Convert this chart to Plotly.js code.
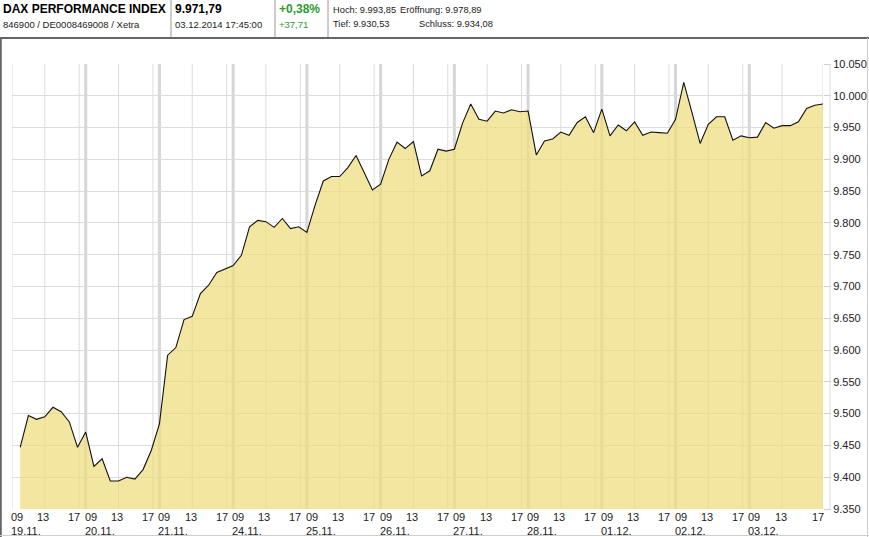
<!DOCTYPE html>
<html>
<head>
<meta charset="utf-8">
<script src="https://cdn.plot.ly/plotly-3.0.1.min.js"></script>
<style>
html,body{margin:0;padding:0;background:#fff;}
#chart{width:869px;height:537px;}
</style>
</head>
<body>
<div id="chart"></div>
<script>
// ---- data ----
const days = ['19.11.', '20.11.', '21.11.', '24.11.', '25.11.', '26.11.', '27.11.', '28.11.', '01.12.', '02.12.', '03.12.'];
const hourTickLabels = ['09', '13', '17'];
const pointsPerDay = 9; // hourly closes 10:00 ... 17:00 and the 17:45 close
const day19 = [9447, 9497, 9491, 9495, 9510, 9503, 9487, 9447, 9471];
const day20 = [9417, 9429, 9394, 9394, 9400, 9397, 9412, 9442, 9484];
const day21 = [9592, 9604, 9648, 9653, 9689, 9702, 9722, 9727, 9733];
const day24 = [9749, 9794, 9804, 9802, 9793, 9807, 9791, 9794, 9785];
const day25 = [9828, 9866, 9873, 9873, 9887, 9906, 9878, 9852, 9861];
const day26 = [9900, 9927, 9917, 9928, 9874, 9882, 9916, 9913, 9916];
const day27 = [9957, 9987, 9963, 9960, 9976, 9973, 9978, 9975, 9976];
const day28 = [9907, 9929, 9932, 9943, 9938, 9958, 9967, 9942, 9979];
const day01 = [9937, 9954, 9945, 9959, 9938, 9943, 9942, 9941, 9963];
const day02 = [10021, 9974, 9925, 9955, 9967, 9967, 9930, 9937, 9934];
const day03 = [9935, 9958, 9949, 9953, 9953, 9959, 9980, 9985, 9987];
const yTicks = [9350, 9400, 9450, 9500, 9550, 9600, 9650, 9700, 9750, 9800, 9850, 9900, 9950, 10000, 10050];

const header = {
  name: 'DAX PERFORMANCE INDEX',
  ids: '846900 / DE0008469008 / Xetra',
  last: '9.971,79',
  time: '03.12.2014 17:45:00',
  pct: '+0,38%',
  abs: '+37,71',
  hoch: 'Hoch: 9.993,85',
  open: 'Eröffnung: 9.978,89',
  tief: 'Tief: 9.930,53',
  close: 'Schluss: 9.934,08'
};

// ---- build ----
const series = [].concat(day19, day20, day21, day24, day25, day26, day27, day28, day01, day02, day03);
const xs = series.map((_, i) => i);

const W = 869, H = 537, ML = 12, MR = 46, MT = 64, MB = 28;
const PW = W - ML - MR, PH = H - MT - MB;
const px = v => (v - ML) / PW;          // pixel x -> paper
const py = v => (H - MB - v) / PH;      // pixel y -> paper

const FONT = 'Liberation Sans, Arial, sans-serif';
const shapes = [];
const annotations = [];

// vertical grid lines
shapes.push({type: 'line', xref: 'x', yref: 'paper', x0: -1, x1: -1, y0: 0, y1: 1, line: {color: '#dcdcdc', width: 1}, layer: 'below'});
shapes.push({type: 'line', xref: 'x', yref: 'paper', x0: 98, x1: 98, y0: 0, y1: 1, line: {color: '#dcdcdc', width: 1}, layer: 'below'});
days.forEach((d, k) => {
  const base = k * pointsPerDay;
  if (k > 0) {
    shapes.push({type: 'line', xref: 'x', yref: 'paper', x0: base - 1, x1: base - 1, y0: 0, y1: 1, line: {color: '#d6d6d6', width: 3}, layer: 'below'});
  }
  shapes.push({type: 'line', xref: 'x', yref: 'paper', x0: base + 3, x1: base + 3, y0: 0, y1: 1, line: {color: '#dcdcdc', width: 1}, layer: 'below'});
  if (k < days.length - 1) {
    shapes.push({type: 'line', xref: 'x', yref: 'paper', x0: base + 7.2, x1: base + 7.2, y0: 0, y1: 1, line: {color: '#dcdcdc', width: 1}, layer: 'below'});
  }
  // hour labels
  annotations.push({xref: 'x', yref: 'paper', x: base - 1, y: py(517), xanchor: 'left', yanchor: 'middle', xshift: -1, text: hourTickLabels[0], showarrow: false, borderpad: 0, borderwidth: 0, font: {family: FONT, size: 11, color: '#222'}});
  annotations.push({xref: 'x', yref: 'paper', x: base + 3, y: py(517), xanchor: 'center', yanchor: 'middle', xshift: -1.5, text: hourTickLabels[1], showarrow: false, borderpad: 0, borderwidth: 0, font: {family: FONT, size: 11, color: '#222'}});
  annotations.push({xref: 'x', yref: 'paper', x: (k < days.length - 1) ? base + 7.2 : 98, y: py(517), xanchor: 'right', yanchor: 'middle', xshift: 1, text: hourTickLabels[2], showarrow: false, borderpad: 0, borderwidth: 0, font: {family: FONT, size: 11, color: '#222'}});
  // date labels
  annotations.push({xref: 'x', yref: 'paper', x: base - 1, y: py(531), xanchor: 'left', yanchor: 'middle', xshift: -1, text: d, showarrow: false, borderpad: 0, borderwidth: 0, font: {family: FONT, size: 11, color: '#222'}});
});

// header
function hdr(text, xpix, ypix, size, color, bold) {
  annotations.push({xref: 'paper', yref: 'paper', x: px(xpix), y: py(ypix), xanchor: 'left', yanchor: 'middle',
    text: bold ? '<b>' + text + '</b>' : text, showarrow: false, borderpad: 0, borderwidth: 0,
    font: {family: FONT, size: size, color: color}});
}
hdr(header.name, 3, 9, 12, '#000', true);
hdr(header.ids, 3, 24.5, 9.5, '#222', false);
hdr(header.last, 175, 9, 12, '#000', true);
hdr(header.time, 175, 24.5, 9.5, '#222', false);
hdr(header.pct, 279, 9, 12, '#2f9a2f', true);
hdr(header.abs, 279, 24.5, 9.5, '#2f9a2f', false);
hdr(header.hoch, 333, 9.5, 9.3, '#222', false);
hdr(header.open, 400, 9.5, 9.3, '#222', false);
hdr(header.tief, 333, 24.5, 9.3, '#222', false);
hdr(header.close, 419, 24.5, 9.3, '#222', false);

// header separators and frame
[171, 275, 328].forEach(x => shapes.push({type: 'line', xref: 'paper', yref: 'paper', x0: px(x), x1: px(x), y0: py(0), y1: py(37), line: {color: '#9a9a9a', width: 1}}));
shapes.push({type: 'line', xref: 'paper', yref: 'paper', x0: px(0), x1: px(869), y0: py(38), y1: py(38), line: {color: '#666', width: 2}});
shapes.push({type: 'line', xref: 'paper', yref: 'paper', x0: px(0.8), x1: px(0.8), y0: py(38), y1: py(537), line: {color: '#666', width: 2}});
shapes.push({type: 'line', xref: 'paper', yref: 'paper', x0: px(0), x1: px(869), y0: py(535.5), y1: py(535.5), line: {color: '#cfcfcf', width: 1}});
shapes.push({type: 'line', xref: 'paper', yref: 'paper', x0: px(867.5), x1: px(867.5), y0: py(38), y1: py(537), line: {color: '#cfcfcf', width: 1}});
shapes.push({type: 'line', xref: 'paper', yref: 'paper', x0: px(830), x1: px(830), y0: 0, y1: 1, line: {color: '#dcdcdc', width: 1}});

const trace = {
  x: xs, y: series, type: 'scatter', mode: 'lines',
  line: {color: '#111', width: 1.1},
  fill: 'tozeroy', fillcolor: 'rgba(238,220,125,0.72)',
  hoverinfo: 'skip'
};

const layout = {
  width: W, height: H,
  margin: {l: ML, r: MR, t: MT, b: MB, pad: 0},
  paper_bgcolor: '#fff', plot_bgcolor: '#fff',
  separators: ',.',
  showlegend: false,
  xaxis: {range: [-1, 98], showgrid: false, showticklabels: false, zeroline: false, showline: false, ticks: '', fixedrange: true},
  yaxis: {side: 'right', range: [9350, 10050], tickvals: yTicks, tickformat: ',d', showgrid: true, gridcolor: '#dcdcdc', gridwidth: 1,
    zeroline: false, showline: false, ticks: 'outside', ticklen: 7, tickcolor: '#cfcfcf',
    tickfont: {family: FONT, size: 11, color: '#222'}, fixedrange: true},
  shapes: shapes,
  annotations: annotations
};

Plotly.newPlot('chart', [trace], layout, {staticPlot: true, displayModeBar: false});
</script>
</body>
</html>
